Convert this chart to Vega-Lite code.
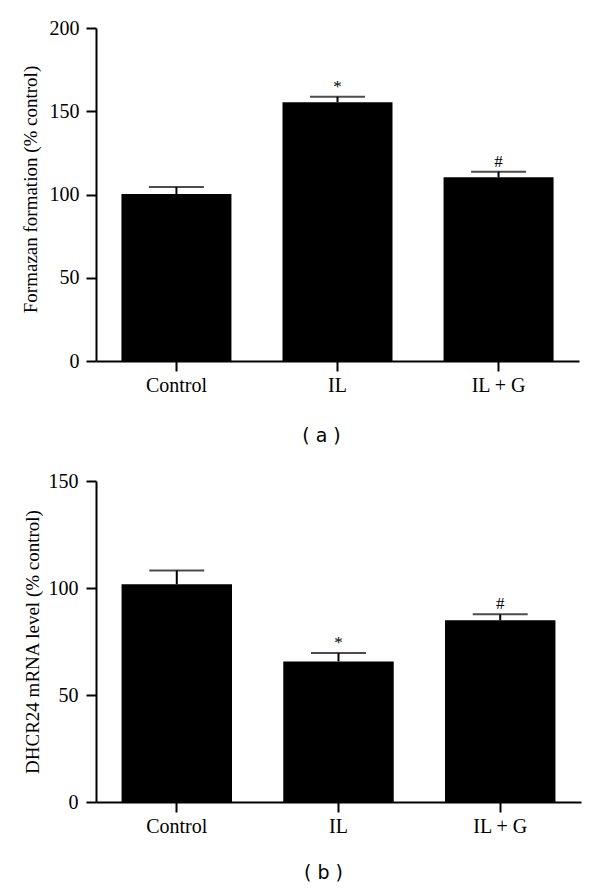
{
  "$schema": "https://vega.github.io/schema/vega-lite/v6.json",
  "padding": {"left": 21, "top": 18, "right": 5, "bottom": 5},
  "spacing": 26,
  "config": {
    "view": {"stroke": null},
    "axis": {
      "domainColor": "#000", "domainWidth": 2, "tickColor": "#000", "tickWidth": 2, "tickSize": 10,
      "labelFont": "Liberation Serif", "labelFontSize": 20, "labelColor": "#000",
      "titleFont": "Liberation Serif", "titleFontSize": 19, "titleFontWeight": "normal", "titleColor": "#000",
      "grid": false
    }
  },
  "datasets": {
    "a": [
      {"group": "Control", "value": 100.3, "err": 104.5, "sig": ""},
      {"group": "IL", "value": 155.4, "err": 158.7, "sig": "*"},
      {"group": "IL + G", "value": 110.3, "err": 113.7, "sig": "#"}
    ],
    "b": [
      {"group": "Control", "value": 101.7, "err": 108.2, "sig": ""},
      {"group": "IL", "value": 65.7, "err": 69.6, "sig": "*"},
      {"group": "IL + G", "value": 84.9, "err": 87.7, "sig": "#"}
    ]
  },
  "vconcat": [
    {
      "width": 483, "height": 333,
      "data": {"name": "a"},
      "encoding": {
        "x": {"field": "group", "type": "nominal", "sort": null,
          "scale": {"paddingInner": 0.317, "paddingOuter": 0.158},
          "axis": {"title": "( a )", "labelAngle": 0, "labelPadding": 4, "titleFont": "DejaVu Sans", "titleFontSize": 19,
            "titleX": 225, "titleY": 74, "titleAlign": "center", "titleBaseline": "middle"}}
      },
      "layer": [
        {"mark": {"type": "bar", "color": "#000"},
         "encoding": {"y": {"field": "value", "type": "quantitative", "scale": {"domain": [0, 200], "nice": false},
           "axis": {"title": "Formazan formation (% control)", "values": [0, 50, 100, 150, 200], "labelPadding": 7,
             "titleX": -66, "titleY": 161, "titleAngle": -90, "titleAlign": "center", "titleBaseline": "middle"}}}},
        {"mark": {"type": "rule", "color": "#000", "strokeWidth": 2},
         "encoding": {"y": {"field": "value", "type": "quantitative"}, "y2": {"field": "err"}}},
        {"mark": {"type": "tick", "color": "#000", "size": 55, "thickness": 2},
         "encoding": {"y": {"field": "err", "type": "quantitative"}}},
        {"mark": {"type": "text", "font": "Liberation Serif", "fontSize": 17, "dy": -10, "baseline": "middle", "color": "#000"},
         "encoding": {"y": {"field": "err", "type": "quantitative"}, "text": {"field": "sig"}}}
      ]
    },
    {
      "width": 485, "height": 321,
      "data": {"name": "b"},
      "encoding": {
        "x": {"field": "group", "type": "nominal", "sort": null,
          "scale": {"paddingInner": 0.317, "paddingOuter": 0.158},
          "axis": {"title": "( b )", "labelAngle": 0, "labelPadding": 4, "titleFont": "DejaVu Sans", "titleFontSize": 19,
            "titleX": 227, "titleY": 70, "titleAlign": "center", "titleBaseline": "middle"}}
      },
      "layer": [
        {"mark": {"type": "bar", "color": "#000"},
         "encoding": {"y": {"field": "value", "type": "quantitative", "scale": {"domain": [0, 150], "nice": false},
           "axis": {"title": "DHCR24 mRNA level (% control)", "values": [0, 50, 100, 150], "labelPadding": 8,
             "titleX": -64, "titleY": 160.5, "titleAngle": -90, "titleAlign": "center", "titleBaseline": "middle"}}}},
        {"mark": {"type": "rule", "color": "#000", "strokeWidth": 2},
         "encoding": {"y": {"field": "value", "type": "quantitative"}, "y2": {"field": "err"}}},
        {"mark": {"type": "tick", "color": "#000", "size": 55, "thickness": 2},
         "encoding": {"y": {"field": "err", "type": "quantitative"}}},
        {"mark": {"type": "text", "font": "Liberation Serif", "fontSize": 17, "dy": -10, "baseline": "middle", "color": "#000"},
         "encoding": {"y": {"field": "err", "type": "quantitative"}, "text": {"field": "sig"}}}
      ]
    }
  ]
}
